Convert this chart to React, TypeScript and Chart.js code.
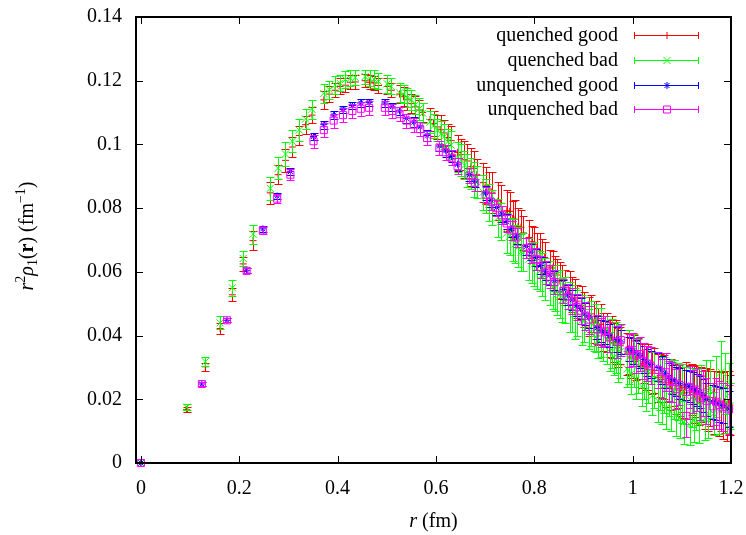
import React, { useEffect, useRef } from 'react';
import { Chart, registerables } from 'chart.js';

Chart.register(...registerables);

const FONT = '"Liberation Serif", "Times New Roman", serif';

// r values (fm) of the quenched lattice
const rQ = [
  0, 0.093, 0.131, 0.161, 0.186, 0.208, 0.228, 0.263, 0.279, 0.294,
  0.308, 0.322, 0.335, 0.348, 0.372, 0.383, 0.395, 0.405, 0.416, 0.426,
  0.436, 0.456, 0.465, 0.474, 0.483, 0.501, 0.509, 0.526, 0.534, 0.542,
  0.550, 0.558, 0.566, 0.573, 0.588, 0.595, 0.603, 0.610, 0.617, 0.624,
  0.631, 0.644, 0.651, 0.658, 0.664, 0.671, 0.677, 0.683, 0.696, 0.702,
  0.708, 0.714, 0.726, 0.732, 0.744, 0.750, 0.756, 0.761, 0.767, 0.773,
  0.778, 0.789, 0.795, 0.800, 0.805, 0.811, 0.816, 0.821, 0.832, 0.837,
  0.842, 0.847, 0.852, 0.857, 0.862, 0.872, 0.877, 0.882, 0.887, 0.897,
  0.902, 0.911, 0.916, 0.921, 0.925, 0.930, 0.935, 0.939, 0.948, 0.953,
  0.957, 0.962, 0.966, 0.971, 0.975, 0.989, 0.993, 0.997, 1.002, 1.006,
  1.010, 1.019, 1.023, 1.027, 1.031, 1.040, 1.044, 1.052, 1.056, 1.060,
  1.064, 1.068, 1.073, 1.077, 1.085, 1.089, 1.093, 1.096, 1.100, 1.104,
  1.108, 1.116, 1.120, 1.124, 1.128, 1.135, 1.139, 1.147, 1.150, 1.154,
  1.158, 1.165, 1.169, 1.176, 1.180, 1.184, 1.187, 1.191, 1.195, 1.198,
];

// quenched good
const yQGood = [
  0, 0.0168, 0.0302, 0.0422, 0.0528, 0.0625, 0.0698, 0.0848, 0.0905, 0.0950,
  0.0992, 0.1028, 0.1062, 0.1092, 0.1140, 0.1158, 0.1170, 0.1182, 0.1186, 0.1195,
  0.1196, 0.1200, 0.1195, 0.1193, 0.1185, 0.1182, 0.1170, 0.1158, 0.1150, 0.1140,
  0.1128, 0.1118, 0.1108, 0.1100, 0.1078, 0.1066, 0.1055, 0.1046, 0.1036, 0.1022,
  0.1012, 0.0975, 0.0968, 0.0952, 0.0948, 0.0930, 0.0925, 0.0905, 0.0880, 0.0872,
  0.0860, 0.0850, 0.0822, 0.0815, 0.0792, 0.0790, 0.0768, 0.0765, 0.0742, 0.0740,
  0.0722, 0.0708, 0.0695, 0.0685, 0.0670, 0.0665, 0.0648, 0.0645, 0.0615, 0.0612,
  0.0595, 0.0590, 0.0572, 0.0570, 0.0552, 0.0542, 0.0528, 0.0520, 0.0508, 0.0495,
  0.0482, 0.0460, 0.0468, 0.0442, 0.0450, 0.0428, 0.0435, 0.0412, 0.0410, 0.0392,
  0.0395, 0.0378, 0.0380, 0.0362, 0.0368, 0.0342, 0.0348, 0.0330, 0.0335, 0.0322,
  0.0328, 0.0305, 0.0312, 0.0298, 0.0302, 0.0282, 0.0290, 0.0268, 0.0275, 0.0262,
  0.0270, 0.0252, 0.0260, 0.0245, 0.0250, 0.0232, 0.0242, 0.0228, 0.0236, 0.0220,
  0.0238, 0.0222, 0.0232, 0.0215, 0.0225, 0.0208, 0.0215, 0.0200, 0.0210, 0.0195,
  0.0205, 0.0190, 0.0198, 0.0185, 0.0195, 0.0180, 0.0192, 0.0178, 0.0188, 0.0182,
];
const eQGood = [
  0, 0.0008, 0.0012, 0.0018, 0.0020, 0.0022, 0.0030, 0.0035, 0.0030, 0.0035,
  0.0030, 0.0030, 0.0028, 0.0025, 0.0028, 0.0025, 0.0022, 0.0025, 0.0022, 0.0022,
  0.0022, 0.0020, 0.0022, 0.0022, 0.0022, 0.0025, 0.0022, 0.0028, 0.0030, 0.0032,
  0.0030, 0.0035, 0.0032, 0.0030, 0.0035, 0.0040, 0.0038, 0.0045, 0.0040, 0.0042,
  0.0045, 0.0055, 0.0048, 0.0058, 0.0052, 0.0060, 0.0055, 0.0050, 0.0062, 0.0058,
  0.0055, 0.0065, 0.0060, 0.0058, 0.0065, 0.0060, 0.0055, 0.0062, 0.0058, 0.0055,
  0.0052, 0.0055, 0.0050, 0.0055, 0.0052, 0.0058, 0.0055, 0.0050, 0.0055, 0.0052,
  0.0055, 0.0050, 0.0058, 0.0052, 0.0055, 0.0060, 0.0055, 0.0058, 0.0052, 0.0060,
  0.0055, 0.0062, 0.0058, 0.0065, 0.0060, 0.0058, 0.0065, 0.0060, 0.0062, 0.0058,
  0.0065, 0.0060, 0.0068, 0.0062, 0.0058, 0.0065, 0.0070, 0.0062, 0.0068, 0.0060,
  0.0065, 0.0070, 0.0062, 0.0068, 0.0072, 0.0065, 0.0070, 0.0075, 0.0068, 0.0072,
  0.0070, 0.0075, 0.0068, 0.0080, 0.0072, 0.0078, 0.0070, 0.0082, 0.0075, 0.0080,
  0.0078, 0.0085, 0.0080, 0.0088, 0.0082, 0.0090, 0.0085, 0.0092, 0.0088, 0.0095,
  0.0090, 0.0098, 0.0092, 0.0100, 0.0095, 0.0105, 0.0098, 0.0110, 0.0100, 0.0095,
];

// quenched bad
const yQBad = [
  0, 0.0175, 0.0318, 0.0440, 0.0550, 0.0642, 0.0718, 0.0862, 0.0925, 0.0970,
  0.1010, 0.1045, 0.1080, 0.1110, 0.1160, 0.1172, 0.1186, 0.1192, 0.1204, 0.1208,
  0.1210, 0.1213, 0.1208, 0.1205, 0.1198, 0.1190, 0.1182, 0.1162, 0.1158, 0.1148,
  0.1140, 0.1125, 0.1112, 0.1098, 0.1070, 0.1058, 0.1045, 0.1032, 0.1025, 0.1008,
  0.0998, 0.0960, 0.0952, 0.0935, 0.0918, 0.0908, 0.0890, 0.0882, 0.0850, 0.0838,
  0.0818, 0.0802, 0.0770, 0.0758, 0.0722, 0.0712, 0.0700, 0.0688, 0.0678, 0.0662,
  0.0662, 0.0640, 0.0628, 0.0625, 0.0610, 0.0602, 0.0592, 0.0578, 0.0565, 0.0552,
  0.0548, 0.0532, 0.0530, 0.0512, 0.0512, 0.0490, 0.0485, 0.0470, 0.0472, 0.0448,
  0.0450, 0.0420, 0.0438, 0.0402, 0.0425, 0.0385, 0.0410, 0.0372, 0.0385, 0.0350,
  0.0375, 0.0332, 0.0362, 0.0315, 0.0350, 0.0295, 0.0332, 0.0280, 0.0322, 0.0262,
  0.0305, 0.0240, 0.0290, 0.0228, 0.0278, 0.0212, 0.0262, 0.0195, 0.0255, 0.0185,
  0.0245, 0.0172, 0.0238, 0.0160, 0.0230, 0.0150, 0.0225, 0.0142, 0.0218, 0.0128,
  0.0212, 0.0120, 0.0205, 0.0135, 0.0200, 0.0125, 0.0215, 0.0140, 0.0228, 0.0150,
  0.0232, 0.0155, 0.0240, 0.0162, 0.0285, 0.0170, 0.0250, 0.0165, 0.0215, 0.0180,
];
const eQBad = [
  0, 0.0010, 0.0015, 0.0020, 0.0025, 0.0025, 0.0030, 0.0035, 0.0035, 0.0038,
  0.0035, 0.0035, 0.0032, 0.0030, 0.0030, 0.0028, 0.0028, 0.0025, 0.0028, 0.0025,
  0.0025, 0.0022, 0.0025, 0.0028, 0.0025, 0.0028, 0.0025, 0.0030, 0.0028, 0.0030,
  0.0032, 0.0030, 0.0035, 0.0032, 0.0035, 0.0038, 0.0035, 0.0040, 0.0038, 0.0042,
  0.0045, 0.0048, 0.0050, 0.0045, 0.0052, 0.0048, 0.0055, 0.0050, 0.0055, 0.0052,
  0.0058, 0.0055, 0.0060, 0.0058, 0.0062, 0.0058, 0.0065, 0.0060, 0.0062, 0.0058,
  0.0060, 0.0065, 0.0062, 0.0068, 0.0065, 0.0062, 0.0068, 0.0065, 0.0070, 0.0068,
  0.0072, 0.0068, 0.0075, 0.0070, 0.0072, 0.0078, 0.0075, 0.0080, 0.0072, 0.0078,
  0.0070, 0.0062, 0.0072, 0.0050, 0.0075, 0.0055, 0.0078, 0.0052, 0.0075, 0.0060,
  0.0078, 0.0055, 0.0080, 0.0060, 0.0082, 0.0058, 0.0085, 0.0062, 0.0082, 0.0060,
  0.0085, 0.0062, 0.0088, 0.0065, 0.0090, 0.0060, 0.0088, 0.0065, 0.0090, 0.0062,
  0.0088, 0.0065, 0.0090, 0.0060, 0.0092, 0.0065, 0.0090, 0.0062, 0.0092, 0.0068,
  0.0090, 0.0065, 0.0092, 0.0068, 0.0095, 0.0062, 0.0092, 0.0068, 0.0095, 0.0070,
  0.0092, 0.0068, 0.0095, 0.0070, 0.0098, 0.0068, 0.0095, 0.0070, 0.0098, 0.0072,
];

// r values (fm) of the unquenched lattice
const rU = [
  0, 0.124, 0.175, 0.215, 0.248, 0.277, 0.304, 0.351, 0.372, 0.392,
  0.411, 0.430, 0.447, 0.464, 0.496, 0.511, 0.526, 0.540, 0.555, 0.568,
  0.582, 0.607, 0.620, 0.632, 0.644, 0.668, 0.679, 0.701, 0.712, 0.723,
  0.734, 0.744, 0.754, 0.764, 0.784, 0.794, 0.804, 0.813, 0.823, 0.832,
  0.841, 0.859, 0.868, 0.877, 0.886, 0.894, 0.903, 0.911, 0.928, 0.936,
  0.944, 0.952, 0.968, 0.976, 0.992, 1.000, 1.007, 1.015, 1.023, 1.030,
  1.037, 1.052, 1.059, 1.067, 1.074, 1.081, 1.088, 1.095, 1.109, 1.116,
  1.123, 1.130, 1.136, 1.143, 1.150, 1.163, 1.170, 1.176, 1.183, 1.196,
];

// unquenched good
const yUGood = [
  0, 0.0248, 0.0448, 0.0605, 0.0735, 0.0838, 0.0915, 0.1025, 0.1062, 0.1092,
  0.1110, 0.1122, 0.1130, 0.1132, 0.1130, 0.1118, 0.1105, 0.1082, 0.1070, 0.1055,
  0.1028, 0.0995, 0.0980, 0.0962, 0.0938, 0.0905, 0.0885, 0.0848, 0.0825, 0.0802,
  0.0782, 0.0758, 0.0735, 0.0712, 0.0680, 0.0662, 0.0645, 0.0620, 0.0602, 0.0590,
  0.0572, 0.0545, 0.0528, 0.0512, 0.0495, 0.0485, 0.0468, 0.0458, 0.0425, 0.0415,
  0.0410, 0.0400, 0.0388, 0.0380, 0.0358, 0.0352, 0.0345, 0.0338, 0.0325, 0.0315,
  0.0310, 0.0300, 0.0292, 0.0280, 0.0270, 0.0262, 0.0255, 0.0250, 0.0245, 0.0240,
  0.0235, 0.0228, 0.0222, 0.0212, 0.0200, 0.0192, 0.0188, 0.0185, 0.0180, 0.0170,
];
const eUGood = [
  0, 0.0005, 0.0006, 0.0008, 0.0010, 0.0010, 0.0012, 0.0012, 0.0012, 0.0012,
  0.0012, 0.0012, 0.0012, 0.0012, 0.0012, 0.0012, 0.0014, 0.0014, 0.0015, 0.0015,
  0.0016, 0.0016, 0.0018, 0.0018, 0.0020, 0.0020, 0.0020, 0.0022, 0.0022, 0.0022,
  0.0024, 0.0024, 0.0025, 0.0025, 0.0026, 0.0026, 0.0028, 0.0028, 0.0028, 0.0030,
  0.0030, 0.0030, 0.0032, 0.0032, 0.0032, 0.0034, 0.0034, 0.0035, 0.0035, 0.0035,
  0.0036, 0.0036, 0.0038, 0.0038, 0.0038, 0.0040, 0.0040, 0.0040, 0.0042, 0.0042,
  0.0042, 0.0044, 0.0044, 0.0045, 0.0045, 0.0046, 0.0046, 0.0048, 0.0048, 0.0048,
  0.0050, 0.0050, 0.0050, 0.0052, 0.0052, 0.0054, 0.0054, 0.0055, 0.0055, 0.0056,
];

// unquenched bad
const yUBad = [
  0, 0.0248, 0.0448, 0.0603, 0.0730, 0.0830, 0.0905, 0.1010, 0.1045, 0.1075,
  0.1092, 0.1105, 0.1112, 0.1115, 0.1115, 0.1105, 0.1095, 0.1075, 0.1062, 0.1048,
  0.1020, 0.0990, 0.0975, 0.0958, 0.0932, 0.0902, 0.0880, 0.0842, 0.0820, 0.0800,
  0.0778, 0.0752, 0.0730, 0.0708, 0.0675, 0.0660, 0.0640, 0.0615, 0.0598, 0.0585,
  0.0568, 0.0540, 0.0522, 0.0508, 0.0490, 0.0478, 0.0462, 0.0450, 0.0420, 0.0410,
  0.0415, 0.0395, 0.0380, 0.0386, 0.0352, 0.0355, 0.0338, 0.0342, 0.0320, 0.0312,
  0.0305, 0.0292, 0.0265, 0.0285, 0.0258, 0.0255, 0.0232, 0.0245, 0.0148, 0.0238,
  0.0225, 0.0230, 0.0205, 0.0218, 0.0195, 0.0178, 0.0192, 0.0182, 0.0175, 0.0168,
];
const eUBad = [
  0, 0.0005, 0.0006, 0.0008, 0.0012, 0.0015, 0.0018, 0.0020, 0.0022, 0.0022,
  0.0022, 0.0022, 0.0022, 0.0022, 0.0022, 0.0022, 0.0022, 0.0022, 0.0022, 0.0022,
  0.0022, 0.0022, 0.0024, 0.0024, 0.0024, 0.0024, 0.0025, 0.0025, 0.0026, 0.0026,
  0.0028, 0.0028, 0.0030, 0.0030, 0.0032, 0.0032, 0.0034, 0.0034, 0.0036, 0.0036,
  0.0038, 0.0038, 0.0040, 0.0040, 0.0042, 0.0042, 0.0044, 0.0044, 0.0046, 0.0046,
  0.0048, 0.0048, 0.0050, 0.0050, 0.0052, 0.0052, 0.0054, 0.0054, 0.0056, 0.0056,
  0.0058, 0.0058, 0.0060, 0.0060, 0.0062, 0.0062, 0.0064, 0.0064, 0.0066, 0.0066,
  0.0068, 0.0068, 0.0070, 0.0070, 0.0072, 0.0072, 0.0074, 0.0074, 0.0076, 0.0076,
];

const xTickValues = [0, 0.2, 0.4, 0.6, 0.8, 1, 1.2];
const yTickValues = [0, 0.02, 0.04, 0.06, 0.08, 0.1, 0.12, 0.14];
const seriesLabels = ['quenched good', 'quenched bad', 'unquenched good', 'unquenched bad'];
const seriesColors = ['#ff0000', '#00ff00', '#0000ff', '#ff00ff'];
const seriesStyles = ['cross', 'crossRot', 'star', 'rect'];

function drawMarker(ctx: CanvasRenderingContext2D, style: string, x: number, y: number) {
  ctx.beginPath();
  if (style === 'cross') {
    ctx.moveTo(x - 3.5, y); ctx.lineTo(x + 3.5, y);
    ctx.moveTo(x, y - 3.5); ctx.lineTo(x, y + 3.5);
  } else if (style === 'crossRot') {
    ctx.moveTo(x - 3.5, y - 3.5); ctx.lineTo(x + 3.5, y + 3.5);
    ctx.moveTo(x - 3.5, y + 3.5); ctx.lineTo(x + 3.5, y - 3.5);
  } else if (style === 'star') {
    ctx.moveTo(x - 3.5, y); ctx.lineTo(x + 3.5, y);
    ctx.moveTo(x, y - 3.5); ctx.lineTo(x, y + 3.5);
    ctx.moveTo(x - 2.5, y - 2.5); ctx.lineTo(x + 2.5, y + 2.5);
    ctx.moveTo(x - 2.5, y + 2.5); ctx.lineTo(x + 2.5, y - 2.5);
  } else {
    ctx.rect(x - 3.5, y - 3.5, 7, 7);
  }
  ctx.stroke();
}

type Seg = { t: string; f: string; dy?: number };

function segWidth(ctx: CanvasRenderingContext2D, segs: Seg[]) {
  let w = 0;
  for (const s of segs) { ctx.font = s.f; w += ctx.measureText(s.t).width; }
  return w;
}
function drawSegs(ctx: CanvasRenderingContext2D, segs: Seg[], x0: number, y0: number) {
  let x = x0;
  for (const s of segs) {
    ctx.font = s.f;
    ctx.fillText(s.t, x, y0 + (s.dy || 0));
    x += ctx.measureText(s.t).width;
  }
}

const errorBarPlugin = {
  id: 'errorBars',
  beforeDatasetDraw(chart: any, args: any) {
    const ds: any = chart.data.datasets[args.index];
    const xs = chart.scales.x;
    const ys = chart.scales.y;
    const ctx: CanvasRenderingContext2D = chart.ctx;
    ctx.save();
    ctx.strokeStyle = ds.borderColor;
    ctx.lineWidth = 1;
    ctx.beginPath();
    ds.data.forEach((p: any, i: number) => {
      const e = ds.errors[i];
      if (!e) return;
      const px = Math.round(xs.getPixelForValue(p.x)) + 0.5;
      const top = Math.round(ys.getPixelForValue(p.y + e)) + 0.5;
      const bot = Math.round(ys.getPixelForValue(p.y - e)) + 0.5;
      ctx.moveTo(px, top); ctx.lineTo(px, bot);
      ctx.moveTo(px - 4, top); ctx.lineTo(px + 4, top);
      ctx.moveTo(px - 4, bot); ctx.lineTo(px + 4, bot);
    });
    ctx.stroke();
    ctx.restore();
  },
};

// frame and inward tick marks on all four sides
function drawFrame(chart: any) {
  const ctx: CanvasRenderingContext2D = chart.ctx;
  const a = chart.chartArea;
  const xs = chart.scales.x;
  const ys = chart.scales.y;
  const L = Math.round(a.left);
  const R = Math.round(a.right);
  const T = Math.round(a.top);
  const B = Math.round(a.bottom);
  ctx.save();
  ctx.globalAlpha = 1;
  ctx.fillStyle = '#000000';
  ctx.fillRect(L - 1, T - 1, R - L + 2, 2);
  ctx.fillRect(L - 1, B - 1, R - L + 2, 2);
  ctx.fillRect(L - 1, T - 1, 2, B - T + 2);
  ctx.fillRect(R - 1, T - 1, 2, B - T + 2);
  for (const v of xTickValues) {
    const px = Math.round(xs.getPixelForValue(v));
    ctx.fillRect(px, B - 7, 1, 7);
    ctx.fillRect(px, T, 1, 7);
  }
  for (const v of yTickValues) {
    const py = Math.round(ys.getPixelForValue(v));
    ctx.fillRect(L, py, 7, 1);
    ctx.fillRect(R - 7, py, 7, 1);
  }
  ctx.restore();
}

const framePlugin = {
  id: 'plotFrameBox',
  beforeDatasetsDraw(chart: any) {
    drawFrame(chart);
  },
};

const textPlugin = {
  id: 'texts',
  afterDraw(chart: any) {
    drawFrame(chart);
    const ctx: CanvasRenderingContext2D = chart.ctx;
    const a = chart.chartArea;
    ctx.save();
    ctx.fillStyle = '#000';
    ctx.textBaseline = 'alphabetic';
    ctx.textAlign = 'left';
    // y title
    const ySegs: Seg[] = [
      { t: 'r', f: `italic 20px ${FONT}` },
      { t: '2', f: `14px ${FONT}`, dy: -8 },
      { t: 'ρ', f: `italic 20px ${FONT}` },
      { t: '1', f: `14px ${FONT}`, dy: 4 },
      { t: '(', f: `20px ${FONT}` },
      { t: 'r', f: `bold 20px ${FONT}` },
      { t: ') (fm', f: `20px ${FONT}` },
      { t: '−1', f: `14px ${FONT}`, dy: -8 },
      { t: ')', f: `20px ${FONT}` },
    ];
    const yw = segWidth(ctx, ySegs);
    ctx.save();
    ctx.translate(33, 236);
    ctx.rotate(-Math.PI / 2);
    drawSegs(ctx, ySegs, -yw / 2, 0);
    ctx.restore();
    // x title
    const xSegs: Seg[] = [
      { t: 'r', f: `italic 20px ${FONT}` },
      { t: ' (fm)', f: `20px ${FONT}` },
    ];
    const xw = segWidth(ctx, xSegs);
    drawSegs(ctx, xSegs, (a.left + a.right) / 2 - xw / 2, 527);
    // legend
    const rows = [35, 60, 85, 109];
    for (let i = 0; i < 4; i++) {
      const y = rows[i];
      ctx.font = `20px ${FONT}`;
      ctx.textAlign = 'right';
      ctx.textBaseline = 'middle';
      ctx.fillStyle = '#000';
      ctx.fillText(seriesLabels[i], 618, y + 1);
      ctx.strokeStyle = seriesColors[i];
      ctx.lineWidth = 1;
      const yy = Math.round(y) + 0.5;
      ctx.beginPath();
      ctx.moveTo(634, yy); ctx.lineTo(699, yy);
      ctx.moveTo(634.5, yy - 3.5); ctx.lineTo(634.5, yy + 3.5);
      ctx.moveTo(698.5, yy - 3.5); ctx.lineTo(698.5, yy + 3.5);
      ctx.stroke();
      drawMarker(ctx, seriesStyles[i], 667, yy);
    }
    ctx.restore();
  },
};

function makeDataset(i: number, xs: number[], ys: number[], es: number[], radius: number, order: number) {
  return {
    label: seriesLabels[i],
    data: xs.map((x, k) => ({ x, y: ys[k] })),
    errors: es,
    showLine: false,
    pointStyle: seriesStyles[i],
    pointRadius: radius,
    pointHoverRadius: radius,
    pointBorderWidth: 1,
    borderColor: seriesColors[i],
    backgroundColor: 'rgba(0,0,0,0)',
    pointBackgroundColor: 'rgba(0,0,0,0)',
    clip: false,
    order,
  } as any;
}

function zeroPadding(s: any) {
  s.paddingTop = 0;
  s.paddingBottom = 0;
  s.paddingLeft = 0;
  s.paddingRight = 0;
}

export default function App() {
  const ref = useRef<HTMLCanvasElement>(null);
  useEffect(() => {
    document.body.style.margin = '0';
    const chart = new Chart(ref.current as HTMLCanvasElement, {
      type: 'scatter',
      data: {
        datasets: [
          makeDataset(0, rQ, yQGood, eQGood, 3.5, 4),
          makeDataset(1, rQ, yQBad, eQBad, 5, 3),
          makeDataset(2, rU, yUGood, eUGood, 3.5, 2),
          makeDataset(3, rU, yUBad, eUBad, 5, 1),
        ],
      },
      options: {
        animation: false,
        responsive: false,
        devicePixelRatio: 1,
        layout: { padding: { top: 17, right: 15, left: 0, bottom: 0 } },
        plugins: { legend: { display: false }, tooltip: { enabled: false } },
        events: [],
        scales: {
          x: {
            type: 'linear',
            min: -0.01,
            max: 1.2,
            grid: { display: false, drawTicks: false },
            border: { display: false },
            afterBuildTicks: (s: any) => { s.ticks = xTickValues.map((v) => ({ value: v })); },
            afterFit: (s: any) => { s.height = 72; zeroPadding(s); },
            ticks: {
              autoSkip: false,
              maxRotation: 0,
              padding: 14,
              color: '#000',
              font: { family: FONT, size: 20 },
              callback: (v: any) => String(v),
            },
          },
          y: {
            type: 'linear',
            min: 0,
            max: 0.14,
            grid: { display: false, drawTicks: false },
            border: { display: false },
            afterBuildTicks: (s: any) => { s.ticks = yTickValues.map((v) => ({ value: v })); },
            afterFit: (s: any) => { s.width = 136; zeroPadding(s); },
            ticks: {
              autoSkip: false,
              padding: 14,
              color: '#000',
              font: { family: FONT, size: 20 },
              callback: (v: any) => String(v),
            },
          },
        },
      } as any,
      plugins: [framePlugin, errorBarPlugin, textPlugin],
    });
    return () => chart.destroy();
  }, []);
  return (
    <div style={{ width: 746, height: 535 }}>
      <canvas ref={ref} width={746} height={535} style={{ display: 'block' }} />
    </div>
  );
}
